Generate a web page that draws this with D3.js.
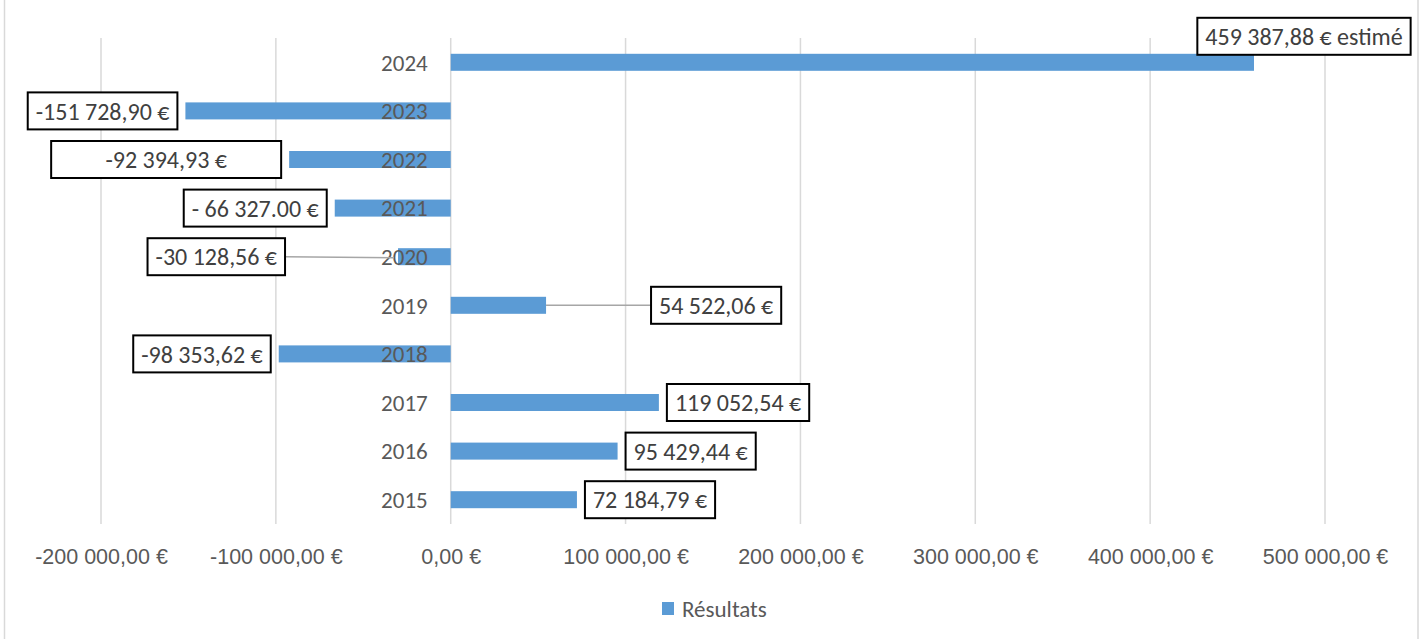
<!DOCTYPE html>
<html>
<head>
<meta charset="utf-8">
<script src="https://cdn.jsdelivr.net/npm/d3@7"></script>
<style>
  html, body { margin: 0; padding: 0; background: #fff; }
  svg { display: block; font-family: Carlito, Calibri, Lato, "Noto Sans", sans-serif; }
</style>
</head>
<body>
<svg id="chart" width="1423" height="639"></svg>
<script>
// Annual results, 2015 to 2024 (2024 is an estimate)
const years = ["2015", "2016", "2017", "2018", "2019", "2020", "2021", "2022", "2023", "2024"];
const results = [72184.79, 95429.44, 119052.54, -98353.62, 54522.06, -30128.56, -66327.00, -92394.93, -151728.90, 459387.88];
const valueLabels = [
  "72 184,79 €", "95 429,44 €", "119 052,54 €", "-98 353,62 €", "54 522,06 €",
  "-30 128,56 €", "- 66 327.00 €", "-92 394,93 €", "-151 728,90 €", "459 387,88 € estimé"
];
const xTicks = [-200000, -100000, 0, 100000, 200000, 300000, 400000, 500000];
const seriesName = "Résultats";

// Placement of each value box (gap from bar end, optional leader line, fixed width, or above the bar)
const labelPlacement = [
  { gap: 8 }, { gap: 8 }, { gap: 8 }, { gap: 8 }, { gap: 105, leader: true },
  { gap: 113, leader: true }, { gap: 8 }, { gap: 8, width: 230 }, { gap: 8 },
  { above: true, dx: 50, dy: -26 }
];

const svg = d3.select("#chart");
const W = 1423, H = 639;
const plot = { left: 101, right: 1325, top: 38, bottom: 524 };
const barColor = "#5B9BD5";
const gridColor = "#D9D9D9";
const textColor = "#595959";

const fr = d3.formatLocale({ decimal: ",", thousands: " ", grouping: [3], currency: ["", " €"], minus: "-" });
const fmt = v => fr.format(",.2f")(v) + " €";

const x = d3.scaleLinear().domain([-200000, 500000]).range([plot.left, plot.right]);
const y = d3.scaleBand().domain(years.slice().reverse()).range([plot.top, plot.bottom])
  .paddingInner(0.65).paddingOuter(0.325);

const data = years.map((yr, i) => ({ year: yr, value: results[i], label: valueLabels[i], place: labelPlacement[i] }));

// Chart frame
svg.append("rect").attr("x", 4.5).attr("y", -5).attr("width", 1413.5).attr("height", H + 10)
  .attr("fill", "none").attr("stroke", gridColor).attr("stroke-width", 1.5);

// Vertical gridlines
svg.append("g").selectAll("line").data(xTicks).join("line")
  .attr("x1", d => x(d)).attr("x2", d => x(d))
  .attr("y1", plot.top).attr("y2", plot.bottom)
  .attr("stroke", gridColor).attr("stroke-width", 1.5);

// X axis tick labels
const xAxis = d3.axisBottom(x).tickValues(xTicks).tickFormat(fmt).tickSize(0).tickPadding(0);
const gx = svg.append("g").attr("transform", `translate(0,${plot.bottom + 32})`).call(xAxis);
gx.select(".domain").remove();
gx.selectAll("text").attr("fill", textColor).attr("font-size", 21.5).attr("font-family", null)
  .attr("dy", "0.36em").attr("y", 0);

// Bars
svg.append("g").selectAll("rect").data(data).join("rect")
  .attr("x", d => x(Math.min(0, d.value)))
  .attr("width", d => Math.abs(x(d.value) - x(0)))
  .attr("y", d => y(d.year))
  .attr("height", y.bandwidth())
  .attr("fill", barColor);

// Category labels beside the zero line
svg.append("g").selectAll("text").data(data).join("text")
  .attr("x", x(0) - 23)
  .attr("y", d => y(d.year) + y.bandwidth() / 2)
  .attr("dy", "0.36em")
  .attr("text-anchor", "end")
  .attr("font-size", 23)
  .attr("fill", textColor)
  .text(d => d.year);

// Value boxes
const lblG = svg.append("g");
data.forEach(d => {
  const end = x(d.value);
  const cy = y(d.year) + y.bandwidth() / 2;
  const g = lblG.append("g");
  const t = g.append("text")
    .attr("font-size", 24).attr("fill", "#404040")
    .attr("text-anchor", "middle").attr("dy", "0.36em")
    .text(d.label);
  const tw = t.node().getComputedTextLength();
  const bw = d.place.width || tw + 16;
  const bh = 37;
  let bx, by;
  if (d.place.above) {
    bx = end + d.place.dx - bw / 2;
    by = cy + d.place.dy - bh / 2;
  } else if (d.value >= 0) {
    bx = end + d.place.gap;
    by = cy - bh / 2;
  } else {
    bx = end - d.place.gap - bw;
    by = cy - bh / 2;
  }
  if (d.place.leader) {
    const lx = d.value >= 0 ? bx : bx + bw;
    const ex = d.value >= 0 ? end : end - 4;
    g.insert("line", "text")
      .attr("x1", ex).attr("y1", cy + (d.value >= 0 ? 0 : 1))
      .attr("x2", lx).attr("y2", cy)
      .attr("stroke", "#A6A6A6").attr("stroke-width", 1.5);
  }
  g.insert("rect", "text")
    .attr("x", bx).attr("y", by).attr("width", bw).attr("height", bh)
    .attr("fill", "#fff").attr("stroke", "#000").attr("stroke-width", 2);
  t.attr("x", bx + bw / 2).attr("y", by + bh / 2);
});

// Legend
const leg = svg.append("g").attr("transform", "translate(662,602)");
leg.append("rect").attr("width", 12).attr("height", 13).attr("fill", barColor);
leg.append("text").attr("x", 20).attr("y", 6.5).attr("dy", "0.36em")
  .attr("font-size", 23).attr("fill", textColor).text(seriesName);
</script>
</body>
</html>
